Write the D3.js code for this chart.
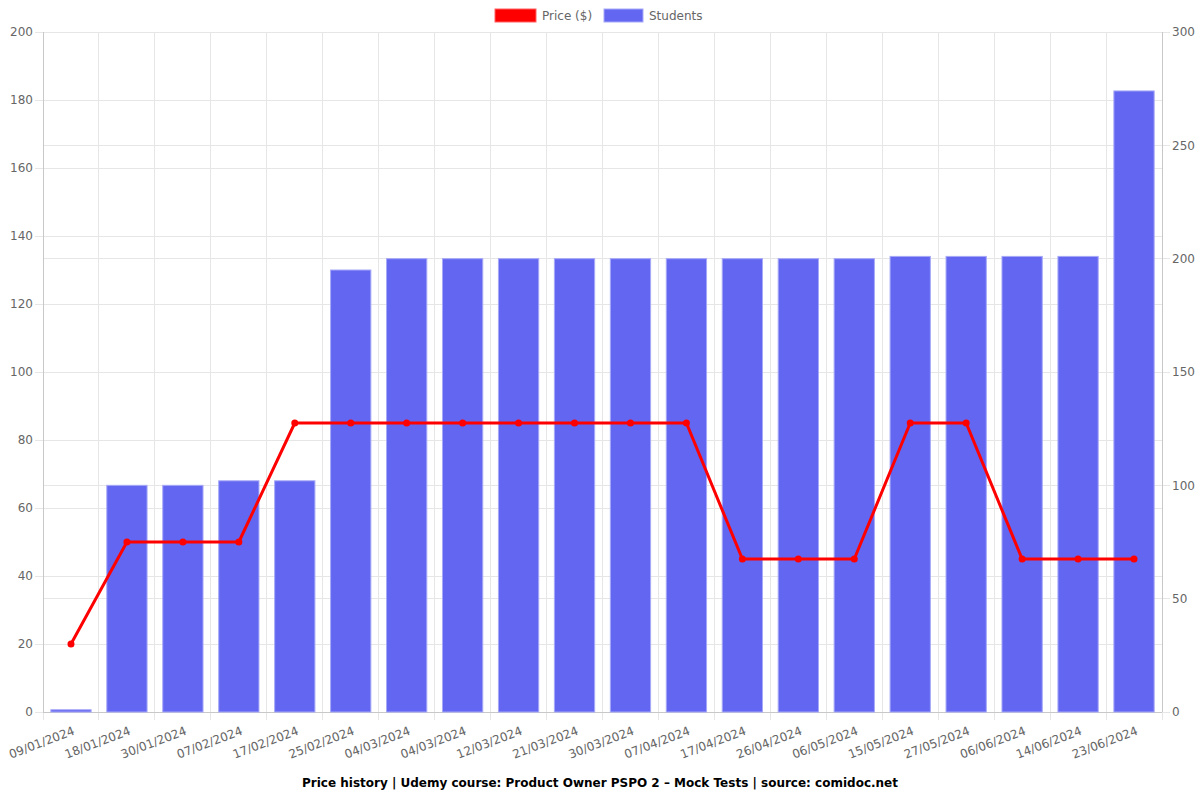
<!DOCTYPE html>
<html>
<head>
<meta charset="utf-8">
<script src="https://cdn.jsdelivr.net/npm/d3@7/dist/d3.min.js"></script>
<style>
  html, body { margin: 0; padding: 0; background: #fff; }
  svg { display: block; font-family: "DejaVu Sans", sans-serif; }
</style>
</head>
<body>
<svg id="chart" width="1200" height="800"></svg>
<script>
const categories = ["09/01/2024","18/01/2024","30/01/2024","07/02/2024","17/02/2024","25/02/2024","04/03/2024","04/03/2024","12/03/2024","21/03/2024","30/03/2024","07/04/2024","17/04/2024","26/04/2024","06/05/2024","15/05/2024","27/05/2024","06/06/2024","14/06/2024","23/06/2024"];
const priceValues = [20,50,50,50,85,85,85,85,85,85,85,85,45,45,45,85,85,45,45,45];
const studentValues = [1,100,100,102,102,195,200,200,200,200,200,200,200,200,200,201,201,201,201,274];
const leftTicks = [0,20,40,60,80,100,120,140,160,180,200];
const rightTicks = [0,50,100,150,200,250,300];
const seriesNames = ["Price ($)", "Students"];
const titleText = "Price history | Udemy course: Product Owner PSPO 2 – Mock Tests | source: comidoc.net";

(function () {
const svg = d3.select("#chart");
const pLeft = 43, pRight = 1162, pTop = 32, pBottom = 712;
const gridColor = "#e6e6e6", axisColor = "#c8c8c8", textColor = "#666";

const x = d3.scaleBand().domain(d3.range(categories.length)).range([pLeft, pRight]).paddingInner(0).paddingOuter(0);
const yL = d3.scaleLinear().domain([0, 200]).range([pBottom, pTop]);
const yR = d3.scaleLinear().domain([0, 300]).range([pBottom, pTop]);

// grid
const g = svg.append("g");
g.selectAll(".vg").data(d3.range(categories.length + 1)).join("line")
  .attr("x1", i => i < categories.length ? x(i) : pRight).attr("x2", i => i < categories.length ? x(i) : pRight)
  .attr("y1", pTop).attr("y2", pBottom + 8)
  .attr("stroke", gridColor).attr("shape-rendering", "crispEdges");
g.selectAll(".hgL").data(leftTicks).join("line")
  .attr("x1", pLeft - 8).attr("x2", pRight).attr("y1", d => yL(d)).attr("y2", d => yL(d))
  .attr("stroke", gridColor).attr("shape-rendering", "crispEdges");
g.selectAll(".hgR").data(rightTicks).join("line")
  .attr("x1", pLeft).attr("x2", pRight + 8).attr("y1", d => yR(d)).attr("y2", d => yR(d))
  .attr("stroke", gridColor).attr("shape-rendering", "crispEdges");

// axis borders
svg.append("line").attr("x1", pLeft).attr("x2", pLeft).attr("y1", pTop).attr("y2", pBottom).attr("stroke", axisColor).attr("shape-rendering", "crispEdges");
svg.append("line").attr("x1", pRight).attr("x2", pRight).attr("y1", pTop).attr("y2", pBottom).attr("stroke", axisColor).attr("shape-rendering", "crispEdges");
svg.append("line").attr("x1", pLeft).attr("x2", pRight).attr("y1", pBottom).attr("y2", pBottom).attr("stroke", axisColor).attr("shape-rendering", "crispEdges");

// tick labels
svg.selectAll(".lt").data(leftTicks).join("text")
  .attr("x", pLeft - 10).attr("y", d => yL(d)).attr("dy", "0.35em")
  .attr("text-anchor", "end").attr("font-size", 12).attr("fill", textColor).text(d => d);
svg.selectAll(".rt").data(rightTicks).join("text")
  .attr("x", pRight + 10).attr("y", d => yR(d)).attr("dy", "0.35em")
  .attr("text-anchor", "start").attr("font-size", 12).attr("fill", textColor).text(d => d);
svg.selectAll(".xt").data(categories).join("text")
  .attr("transform", (d, i) => `translate(${x(i) + x.bandwidth() / 2 + 3},${pBottom + 18}) rotate(-21)`)
  .attr("text-anchor", "end").attr("dy", "0.35em")
  .attr("font-size", 12).attr("fill", textColor).text(d => d);

// bars
const bw = x.bandwidth() * 0.72;
svg.selectAll(".bar").data(studentValues).join("rect")
  .attr("x", (d, i) => x(i) + (x.bandwidth() - bw) / 2)
  .attr("y", d => yR(d)).attr("width", bw).attr("height", d => pBottom - yR(d))
  .attr("fill", "#6366f1").attr("stroke", "#a7a9f7").attr("stroke-width", 1);

// line
const line = d3.line().x((d, i) => x(i) + x.bandwidth() / 2).y(d => yL(d));
svg.append("path").datum(priceValues).attr("d", line)
  .attr("fill", "none").attr("stroke", "#ff0000").attr("stroke-width", 3).attr("stroke-linejoin", "round");
svg.selectAll(".pt").data(priceValues).join("circle")
  .attr("cx", (d, i) => x(i) + x.bandwidth() / 2).attr("cy", d => yL(d)).attr("r", 3.5)
  .attr("fill", "#ff0000");

// legend
const legend = svg.append("g");
legend.append("rect").attr("x", 495).attr("y", 9).attr("width", 41).attr("height", 13).attr("fill", "#ff0000").attr("stroke", "#ff6060").attr("stroke-width", 1);
legend.append("text").attr("x", 542).attr("y", 16).attr("dy", "0.35em").attr("font-size", 12).attr("fill", textColor).text(seriesNames[0]);
legend.append("rect").attr("x", 604).attr("y", 9).attr("width", 39).attr("height", 13).attr("fill", "#6366f1").attr("stroke", "#a7a9f7").attr("stroke-width", 1);
legend.append("text").attr("x", 649).attr("y", 16).attr("dy", "0.35em").attr("font-size", 12).attr("fill", textColor).text(seriesNames[1]);

// title
svg.append("text").attr("x", 600).attr("y", 783).attr("dy", "0.35em").attr("text-anchor", "middle")
  .attr("font-size", 12).attr("font-weight", "bold").attr("fill", "#000").text(titleText);
})();
</script>
</body>
</html>
